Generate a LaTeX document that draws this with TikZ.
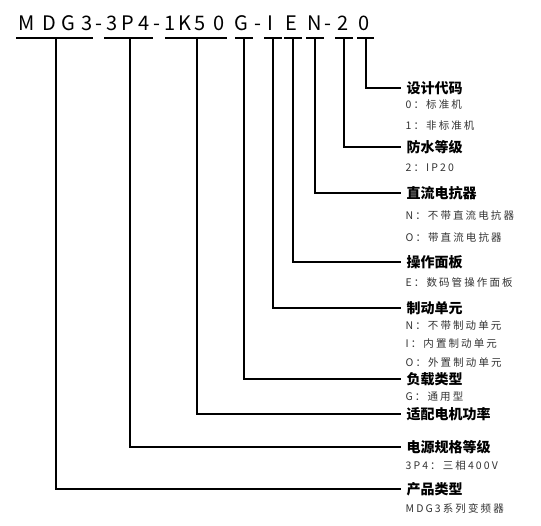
\documentclass[tikz,border=0pt]{standalone}
\usepackage{fontspec}
\setmainfont{Noto Sans CJK SC}
\newfontfamily\subfont[LetterSpace=20]{Noto Sans CJK SC}
\usepackage{xcolor}
\definecolor{SubGray}{HTML}{333333}
\usetikzlibrary{positioning}

\begin{document}
\begin{tikzpicture}[x=1pt, y=-1pt, line width=1.3pt, every node/.style={inner sep=0pt},
  code/.style={anchor=base, font=\fontsize{20}{20}\selectfont},
  title/.style={anchor=west, inner xsep=5pt, font=\fontsize{14}{14}\selectfont\bfseries},
  info/.style={anchor=west, text=SubGray, font=\fontsize{10.5}{10.5}\subfont}]
  \useasboundingbox (0,0) rectangle (541,525);
  % model code
  \foreach \c/\x [count=\i] in {M/27, D/49, G/68, 3/87, -/99, 3/112, P/128, 4/144, -/157, 1/170, K/185, 5/200, 0/219, G/241, -/258, I/270, E/291, N/315, -/328, 2/343, 0/364}
    \node[code] (c\i) at (\x,30.5) {\c};
  % underlines
  \foreach \a/\b/\m/\n in {16/93/56/mdg, 104/153/130/volt, 165/227/197/pow, 235/253/244/load, 264/282/273/brake, 284/302/293/panel, 306/324/315/react, 335/353/344/ip, 357/374/366/design} {
    \draw (\a,38) -- (\b,38);
    \coordinate (\n) at (\m,38);
  }
  % titles
  \node[title] (tdesign) at (401,88) {设计代码};
  \node[title] (tip) at (401,147) {防水等级};
  \node[title] (treact) at (401,193) {直流电抗器};
  \node[title] (tpanel) at (401,262) {操作面板};
  \node[title] (tbrake) at (401,308) {制动单元};
  \node[title] (tload) at (401,379) {负载类型};
  \node[title] (tpow) at (401,414) {适配电机功率};
  \node[title] (tvolt) at (401,447) {电源规格等级};
  \node[title] (tmdg) at (401,489) {产品类型};
  % options
  \node[info] (d0) at (405,105) {0：标准机};
  \node[info] (d1) at (405,126) {1：非标准机};
  \node[info] (i20) at (405,168) {2：IP20};
  \node[info] (rn) at (405,215) {N：不带直流电抗器};
  \node[info] (ro) at (405,237) {O：带直流电抗器};
  \node[info] (pe) at (405,283) {E：数码管操作面板};
  \node[info] (bn) at (405,326) {N：不带制动单元};
  \node[info] (bi) at (405,344) {I：内置制动单元};
  \node[info] (bo) at (405,362) {O：外置制动单元};
  \node[info] (lg) at (405,397) {G：通用型};
  \node[info] (v3) at (405,465) {3P4：三相400V};
  \node[info] (m3) at (405,508) {MDG3系列变频器};
  % connectors
  \draw (design) |- (tdesign.west);
  \draw (ip) |- (tip.west);
  \draw (react) |- (treact.west);
  \draw (panel) |- (tpanel.west);
  \draw (brake) |- (tbrake.west);
  \draw (load) |- (tload.west);
  \draw (pow) |- (tpow.west);
  \draw (volt) |- (tvolt.west);
  \draw (mdg) |- (tmdg.west);
\end{tikzpicture}
\end{document}
